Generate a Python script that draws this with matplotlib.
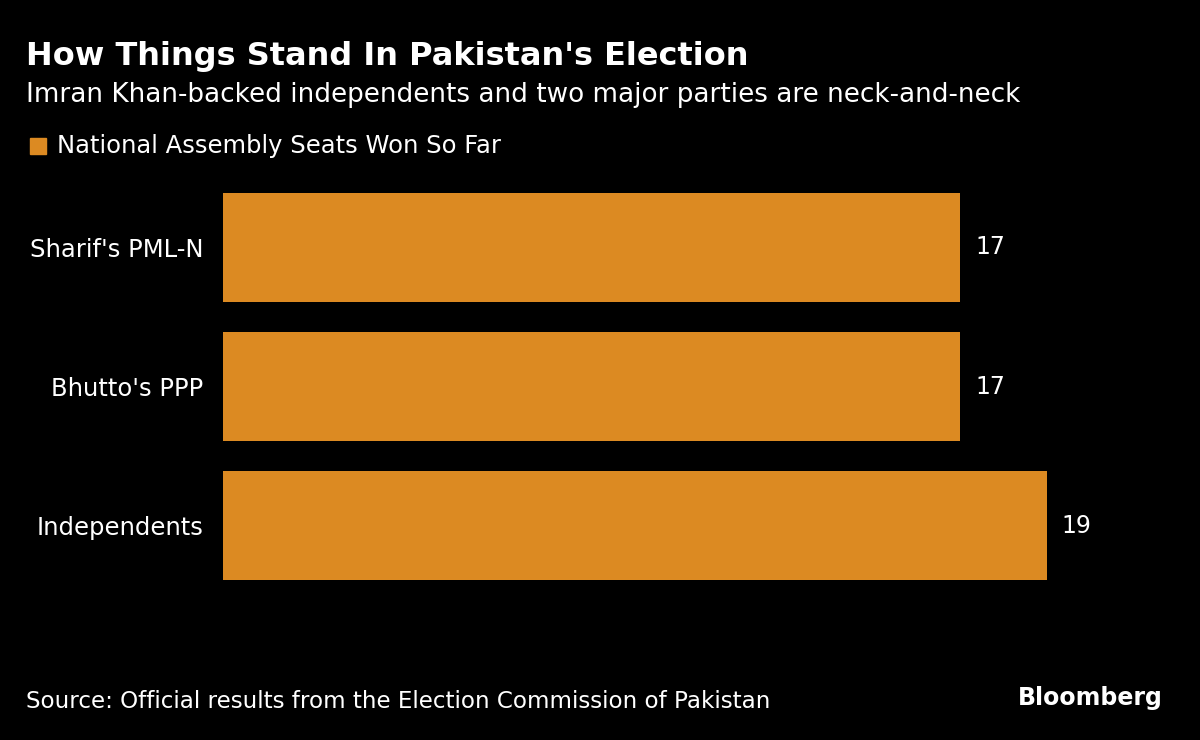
import matplotlib.pyplot as plt

parties = ["Sharif's PML-N", "Bhutto's PPP", "Independents"]
seats = [17, 17, 19]

bar_color = '#DC8A22'

fig = plt.figure(figsize=(12, 7.4), dpi=100, facecolor='black')
# axes placed so bars span x 223..1150 px, y 193..580 px
ax = fig.add_axes([223 / 1200, 1 - 580 / 740, (1150 - 223) / 1200, (580 - 193) / 740])
ax.set_facecolor('black')

y = list(range(len(parties)))
ax.barh(y, seats, height=0.784, color=bar_color)
ax.set_xlim(0, 927 / (737 / 17))
ax.set_ylim(2.392, -0.392)
for yi, v in zip(y, seats):
    ax.text(v + 0.35, yi, str(v), color='white', fontsize=17, va='center', ha='left')

ax.set_yticks(y)
ax.set_yticklabels(parties, color='white', fontsize=17.5)
ax.tick_params(axis='y', length=0, pad=14)
ax.set_xticks([])
for s in ax.spines.values():
    s.set_visible(False)

fig.text(26 / 1200, 1 - 56 / 740, "How Things Stand In Pakistan's Election", color='white',
         fontsize=23, fontweight='bold', va='center')
fig.text(26 / 1200, 1 - 95 / 740, "Imran Khan-backed independents and two major parties are neck-and-neck",
         color='white', fontsize=18.9, va='center')
fig.patches.append(plt.Rectangle((30 / 1200, 1 - 154 / 740), 16 / 1200, 16 / 740,
                                 transform=fig.transFigure, color=bar_color))
fig.text(57 / 1200, 1 - 146 / 740, "National Assembly Seats Won So Far", color='white',
         fontsize=17.5, va='center')
fig.text(26 / 1200, 1 - 701 / 740, "Source: Official results from the Election Commission of Pakistan",
         color='white', fontsize=16.6, va='center')
fig.text(1163 / 1200, 1 - 698 / 740, "Bloomberg", color='white', fontsize=17,
         fontweight='bold', va='center', ha='right')

fig.savefig('out.png', dpi=100, facecolor='black')
